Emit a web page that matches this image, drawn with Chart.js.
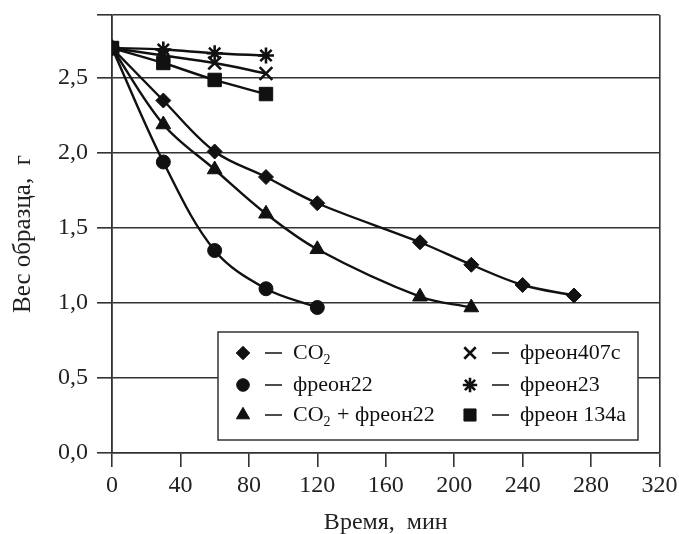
<!DOCTYPE html>
<html>
<head>
<meta charset="utf-8">
<script src="https://cdn.jsdelivr.net/npm/chart.js@4/dist/chart.umd.min.js"></script>
<style>
  html, body { margin: 0; padding: 0; background: #fff; }
  #wrap { width: 679px; height: 534px; }
</style>
</head>
<body>
<div id="wrap"><canvas id="graf" width="679" height="534"></canvas></div>
<script>
// Tiempos (min) y pesos (g)
const tCO2 = [0, 30, 60, 90, 120, 180, 210, 240, 270];
const wCO2 = [2.70, 2.35, 2.01, 1.84, 1.665, 1.405, 1.255, 1.12, 1.05];

const tF22 = [0, 30, 60, 90, 120];
const wF22 = [2.70, 1.94, 1.35, 1.095, 0.97];

const tMix = [0, 30, 60, 90, 120, 180, 210];
const wMix = [2.70, 2.19, 1.89, 1.595, 1.358, 1.042, 0.97];

const tCorto = [0, 30, 60, 90];
const wF407 = [2.70, 2.65, 2.60, 2.53];
const wF23 = [2.70, 2.69, 2.665, 2.65];
const wF134 = [2.70, 2.60, 2.487, 2.393];

const xTicks = [0, 40, 80, 120, 160, 200, 240, 280, 320];
const yTicks = [0, 0.5, 1.0, 1.5, 2.0, 2.5];
const yMax = 2.92;

const negro = '#111';
const marco = '#333';
const fuente = 'Liberation Serif';

function puntos(ts, ws) {
  return ts.map((t, i) => ({ x: t, y: ws[i] }));
}

function serie(label, ts, ws, estilo, radio) {
  return {
    label: label,
    data: puntos(ts, ws),
    borderColor: negro,
    backgroundColor: negro,
    borderWidth: 2.4,
    tension: 0.35,
    pointStyle: estilo,
    pointRadius: radio,
    pointBorderWidth: estilo === 'crossRot' || estilo === 'star' ? 2.6 : 1,
    pointBackgroundColor: negro,
    pointBorderColor: negro,
  };
}

// Leyenda dibujada a mano: dos columnas dentro del area del grafico
const leyenda = {
  id: 'leyenda',
  afterDraw(chart) {
    const ctx = chart.ctx;
    const box = { x: 218, y: 332, w: 420, h: 108 };
    ctx.save();
    ctx.fillStyle = '#fff';
    ctx.fillRect(box.x, box.y, box.w, box.h);
    ctx.strokeStyle = marco;
    ctx.lineWidth = 1.5;
    ctx.strokeRect(box.x, box.y, box.w, box.h);

    const filas = [353, 385, 415];
    const cols = [243, 470];
    chart.data.datasets.forEach((ds, i) => {
      const cx = cols[Math.floor(i / 3)];
      const cy = filas[i % 3];
      ctx.fillStyle = negro;
      ctx.strokeStyle = negro;
      ctx.lineWidth = ds.pointBorderWidth;
      Chart.helpers.drawPoint(ctx, {
        pointStyle: ds.pointStyle,
        radius: ds.pointRadius * 0.9,
        rotation: 0,
        borderWidth: ds.pointBorderWidth
      }, cx, cy);
      // guion
      ctx.lineWidth = 1.5;
      ctx.beginPath();
      ctx.moveTo(cx + 22, cy);
      ctx.lineTo(cx + 39, cy);
      ctx.stroke();
      // texto con subindice para CO2
      ctx.textBaseline = 'middle';
      ctx.textAlign = 'left';
      let x = cx + 50;
      const partes = ds.label.split('₂');
      partes.forEach((p, k) => {
        ctx.font = '22px "' + fuente + '"';
        ctx.fillText(p, x, cy);
        x += ctx.measureText(p).width;
        if (k < partes.length - 1) {
          ctx.font = '14px "' + fuente + '"';
          ctx.fillText('2', x, cy + 7);
          x += ctx.measureText('2').width + 1;
        }
      });
    });
    ctx.restore();
  }
};

new Chart(document.getElementById('graf'), {
  type: 'line',
  data: {
    datasets: [
      serie('CO₂', tCO2, wCO2, 'rectRot', 7.5),
      serie('фреон22', tF22, wF22, 'circle', 7),
      serie('CO₂ + фреон22', tMix, wMix, 'triangle', 8.5),
      serie('фреон407с', tCorto, wF407, 'crossRot', 9),
      serie('фреон23', tCorto, wF23, 'star', 8),
      serie('фреон 134а', tCorto, wF134, 'rect', 9.5),
    ]
  },
  options: {
    responsive: false,
    animation: false,
    layout: { padding: { top: 15, right: 19.5, left: 0, bottom: 0 } },
    plugins: {
      legend: { display: false },
      tooltip: { enabled: false }
    },
    scales: {
      x: {
        type: 'linear',
        min: 0,
        max: 320,
        afterBuildTicks: (scale) => { scale.ticks = xTicks.map(v => ({ value: v })); },
        afterFit: (scale) => {
          scale.height = 81;
          scale.paddingLeft = 0;
          scale.paddingRight = 0;
        },
        ticks: {
          color: '#222',
          padding: 4,
          maxRotation: 0,
          font: { family: fuente, size: 24 },
          callback: (v) => String(v)
        },
        grid: {
          color: (c) => (c.tick && (c.tick.value === 0 || c.tick.value === 320)) ? marco : 'rgba(0,0,0,0)',
          tickColor: marco,
          lineWidth: 1.6,
          tickLength: 14
        },
        border: { color: marco, width: 1.6 },
        title: {
          display: true,
          text: 'Время,  мин',
          color: '#222',
          font: { family: fuente, size: 24 },
          padding: { top: 0, bottom: -3.5 }
        }
      },
      y: {
        type: 'linear',
        min: 0,
        max: yMax,
        afterBuildTicks: (scale) => {
          scale.ticks = yTicks.map(v => ({ value: v })).concat([{ value: yMax }]);
        },
        afterFit: (scale) => {
          scale.width = 112;
          scale.paddingTop = 0;
          scale.paddingBottom = 0;
        },
        ticks: {
          color: '#222',
          padding: 9,
          font: { family: fuente, size: 24 },
          callback: (v) => yTicks.includes(v) ? v.toFixed(1).replace('.', ',') : ''
        },
        grid: {
          color: marco,
          tickColor: marco,
          lineWidth: 1.6,
          tickLength: 15
        },
        border: { color: marco, width: 1.6 },
        title: {
          display: true,
          text: 'Вес образца,  г',
          color: '#222',
          font: { family: fuente, size: 25 },
          padding: { top: 8, bottom: 0 }
        }
      }
    }
  },
  plugins: [leyenda]
});
</script>
</body>
</html>
